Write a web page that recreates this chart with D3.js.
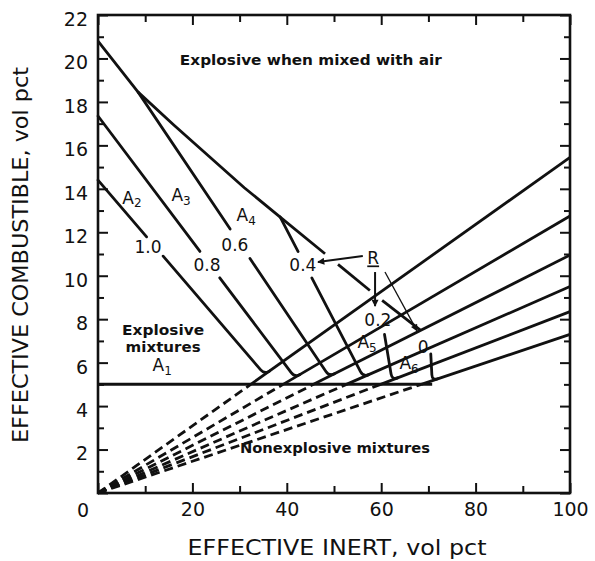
<!DOCTYPE html>
<html><head><meta charset="utf-8">
<script src="https://cdn.jsdelivr.net/npm/d3@7"></script>
<style>body{margin:0;background:#fff}svg{display:block}</style>
</head><body><svg id="c" width="595" height="561"></svg>
<script>
// ---------- data ----------
const xMinorTicks = [10,30,50,70,90];
const xMajorTicks = [0,20,40,60,80,100];
const xTickLabels = [20,40,60,80,100];
const yMinorTicks = [1,3,5,7,9,11,13,15,17,19,21];
const yMajorTicks = [0,2,4,6,8,10,12,14,16,18,20,22];
const yTickLabels = [2,4,6,8,10,12,14,16,18,20,22];
const originLabel = "0";

const rValues   = ["1.0","0.8","0.6","0.4","0.2","0"];
const rayEndY   = [15.45,12.75,10.95,9.5,8.35,7.3];   // y of each ray at x = 100
const lineTopX  = [0,0,8.5,38.6,59.4,70.5];
const lineTopY  = [14.4,17.35,18.45,12.7,9.0,6.4];
const junctionX = [35.3,41.7,49.0,56.2,62.3,70.8];
const gapStartX = [10.3,21.6,28.0,42.4,59.4,70.5];
const gapEndX   = [13.8,25.8,32.2,45.3,60.7,70.5];
const rLabelX   = [10.6,23.1,29.0,43.4,59.3,68.9];
const rLabelY   = [11.32,10.49,11.41,10.49,7.96,6.72];

const envelopeX = [0,8.5,16,23.5,31,38.6,59.4,68.3];
const envelopeY = [20.8,18.45,16.95,15.5,14.05,12.7,9.0,7.5];
const envelopeGaps = [[48.1,50.85],[57.6,60.2]];

const lowerLimitY = 5;
const lowerLimitEndX = 70.8;

const regionNames = ["A","A","A","A","A","A"];
const regionSubs  = ["1","2","3","4","5","6"];
const regionX     = [13.6,7.2,17.6,31.4,57.0,65.9];
const regionY     = [5.9,13.6,13.7,12.8,6.95,5.98];

const arrowFrom = [[56.1,10.91],[58.7,10.17],[60.8,10.17]];
const arrowTo   = [[46.6,10.63],[58.7,8.6],[67.6,7.46]];
const arrowWidth = [2,2,1.3];
const rAnnot = {text:"R", x:58.3, y:10.8};

const areaLabels = [
  {text:"Explosive when mixed with air", x:45.1, y:19.93, len:262},
  {text:"Explosive", x:13.8, y:7.5, len:82},
  {text:"mixtures", x:13.8, y:6.72, len:75},
  {text:"Nonexplosive mixtures", x:50.2, y:2.07, len:190}
];
const xTitle = "EFFECTIVE INERT, vol pct";
const yTitle = "EFFECTIVE COMBUSTIBLE, vol pct";

// ---------- drawing ----------
const svg = d3.select("#c");
const INK = "#111";
const FONT = "'DejaVu Sans', sans-serif";
const x = d3.scaleLinear().domain([0,100]).range([98,570]);
const y = d3.scaleLinear().domain([0,22]).range([493,15]);
const line = d3.line();

svg.append("rect").attr("width",595).attr("height",561).attr("fill","#fff");

// rays
const gRays = svg.append("g").attr("fill","none").attr("stroke",INK).attr("stroke-width",2.8);
rayEndY.forEach(e => {
  const s = e/100, x5 = lowerLimitY/s;
  gRays.append("path").attr("d", line([[x(0),y(0)],[x(x5),y(lowerLimitY)]]))
    .attr("stroke-dasharray","9,5");
  gRays.append("path").attr("d", line([[x(x5),y(lowerLimitY)],[x(100),y(e)]]));
});

// lower limit line
svg.append("path").attr("d", line([[x(0),y(lowerLimitY)],[x(lowerLimitEndX),y(lowerLimitY)]]))
  .attr("stroke",INK).attr("stroke-width",3).attr("fill","none");

// constant-R lines
const gR = svg.append("g").attr("fill","none").attr("stroke",INK).attr("stroke-width",2.8)
  .attr("stroke-linecap","round");
rValues.forEach((r,i) => {
  const s = rayEndY[i]/100;
  const jx = junctionX[i], jy = s*jx;
  const at = xx => lineTopY[i] + (jy-lineTopY[i])*(xx-lineTopX[i])/(jx-lineTopX[i]);
  const P0 = [x(lineTopX[i]), y(lineTopY[i])];
  const J = [x(jx), y(jy)];
  let start = P0;
  if (gapEndX[i] > gapStartX[i]) {
    if (gapStartX[i] > lineTopX[i])
      gR.append("path").attr("d", line([P0,[x(gapStartX[i]), y(at(gapStartX[i]))]]));
    start = [x(gapEndX[i]), y(at(gapEndX[i]))];
  }
  const ux = J[0]-start[0], uy = J[1]-start[1], ul = Math.hypot(ux,uy);
  const E = [x(100), y(rayEndY[i])];
  const vx = E[0]-J[0], vy = E[1]-J[1], vl = Math.hypot(vx,vy);
  const rp = Math.min(6, ul*0.5);
  const A = [J[0]-ux/ul*rp, J[1]-uy/ul*rp];
  const B = [J[0]+vx/vl*rp, J[1]+vy/vl*rp];
  gR.append("path").attr("d", `M${start[0]},${start[1]}L${A[0]},${A[1]}Q${J[0]},${J[1]} ${B[0]},${B[1]}`);
});

// envelope (upper limit) with gaps
(function(){
  const f = d3.scaleLinear().domain(envelopeX).range(envelopeY);
  const xs = Array.from(new Set([...envelopeX, ...envelopeGaps.flat()])).sort((a,b)=>a-b);
  const inGap = v => envelopeGaps.some(g => v>g[0] && v<g[1]);
  let pieces = [], cur = [];
  for (let k=0;k<xs.length-1;k++){
    const a=xs[k], b=xs[k+1];
    if (inGap((a+b)/2)) { if (cur.length) pieces.push(cur); cur=[]; continue; }
    if (!cur.length) cur.push([x(a),y(f(a))]);
    cur.push([x(b),y(f(b))]);
  }
  if (cur.length) pieces.push(cur);
  pieces.forEach(p => svg.append("path").attr("d", line(p)).attr("fill","none")
    .attr("stroke",INK).attr("stroke-width",2.8).attr("stroke-linejoin","round"));
})();

// arrows
const defs = svg.append("defs");
defs.append("marker").attr("id","ah").attr("viewBox","0 0 10 10").attr("refX",9).attr("refY",5)
  .attr("markerWidth",9).attr("markerHeight",7).attr("markerUnits","userSpaceOnUse").attr("orient","auto")
  .append("path").attr("d","M0,0L10,5L0,10z").attr("fill",INK);
arrowFrom.forEach((f,i) => {
  svg.append("path").attr("d", line([[x(f[0]),y(f[1])],[x(arrowTo[i][0]),y(arrowTo[i][1])]]))
    .attr("stroke",INK).attr("stroke-width",arrowWidth[i]).attr("fill","none").attr("marker-end","url(#ah)");
});

// frame
svg.append("rect").attr("x",x(0)).attr("y",y(22)).attr("width",x(100)-x(0)).attr("height",y(0)-y(22))
  .attr("fill","none").attr("stroke",INK).attr("stroke-width",2.6);

// axes (ticks inward)
function styleAxis(g){ g.select(".domain").remove(); g.selectAll("line").attr("stroke",INK).attr("stroke-width",2);
  g.selectAll("text").attr("fill",INK).style("font-family",FONT).style("font-size","19px"); }
svg.append("g").attr("transform",`translate(0,${y(0)})`)
  .call(d3.axisBottom(x).tickValues(xMinorTicks).tickSize(-7).tickFormat("")).call(styleAxis);
svg.append("g").attr("transform",`translate(0,${y(0)})`)
  .call(d3.axisBottom(x).tickValues(xMajorTicks).tickSize(-10).tickPadding(10)
    .tickFormat(d => xTickLabels.includes(d) ? d : "")).call(styleAxis);
svg.append("g").attr("transform",`translate(0,${y(22)})`)
  .call(d3.axisTop(x).tickValues(xMinorTicks).tickSize(-7).tickFormat("")).call(styleAxis);
svg.append("g").attr("transform",`translate(0,${y(22)})`)
  .call(d3.axisTop(x).tickValues(xMajorTicks).tickSize(-10).tickFormat("")).call(styleAxis);
svg.append("g").attr("transform",`translate(${x(0)},0)`)
  .call(d3.axisLeft(y).tickValues(yMinorTicks).tickSize(-6).tickFormat("")).call(styleAxis);
const gl = svg.append("g").attr("transform",`translate(${x(0)},0)`)
  .call(d3.axisLeft(y).tickValues(yMajorTicks).tickSize(-10).tickPadding(10)
    .tickFormat(d => yTickLabels.includes(d) ? d : "")).call(styleAxis);
gl.selectAll("text").attr("dy","0.55em");
svg.append("g").attr("transform",`translate(${x(100)},0)`)
  .call(d3.axisRight(y).tickValues(yMinorTicks).tickSize(-6).tickFormat("")).call(styleAxis);
svg.append("g").attr("transform",`translate(${x(100)},0)`)
  .call(d3.axisRight(y).tickValues(yMajorTicks).tickSize(-10).tickFormat("")).call(styleAxis);
svg.append("text").attr("x",x(0)-15).attr("y",y(0)+17).attr("dy","0.35em").attr("text-anchor","middle")
  .style("font-family",FONT).style("font-size","19px").attr("fill",INK).text(originLabel);

// R labels
rValues.forEach((r,i) => {
  svg.append("text").attr("x",x(rLabelX[i])).attr("y",y(rLabelY[i])).attr("dy","0.36em")
    .attr("text-anchor","middle").style("font-family",FONT).style("font-size","17px").attr("fill",INK).text(r);
});
// R annotation
svg.append("text").attr("x",x(rAnnot.x)).attr("y",y(rAnnot.y)).attr("dy","0.36em")
  .attr("text-anchor","middle").style("font-family",FONT).style("font-size","17px")
  .style("text-decoration","underline").attr("fill",INK).text(rAnnot.text);

// region labels
regionNames.forEach((n,i) => {
  const t = svg.append("text").attr("x",x(regionX[i])).attr("y",y(regionY[i])).attr("dy","0.36em")
    .attr("text-anchor","middle").style("font-family",FONT).style("font-size","17px").attr("fill",INK);
  t.append("tspan").text(n);
  t.append("tspan").attr("dy","0.3em").style("font-size","12px").text(regionSubs[i]);
});

// area labels
areaLabels.forEach(a => {
  svg.append("text").attr("x",x(a.x)).attr("y",y(a.y)).attr("dy","0.36em").attr("text-anchor","middle")
    .style("font-family",FONT).style("font-size","14px").style("font-weight","bold").attr("fill",INK)
    .attr("textLength",a.len).attr("lengthAdjust","spacingAndGlyphs").text(a.text);
});

// axis titles
svg.append("text").attr("x",337).attr("y",555).attr("text-anchor","middle")
  .style("font-family",FONT).style("font-size","21px").attr("fill",INK)
  .attr("textLength",299).attr("lengthAdjust","spacingAndGlyphs").text(xTitle);
svg.append("text").attr("transform","translate(28,255) rotate(-90)").attr("text-anchor","middle")
  .style("font-family",FONT).style("font-size","21px").attr("fill",INK)
  .attr("textLength",376).attr("lengthAdjust","spacingAndGlyphs").text(yTitle);
</script></body></html>
